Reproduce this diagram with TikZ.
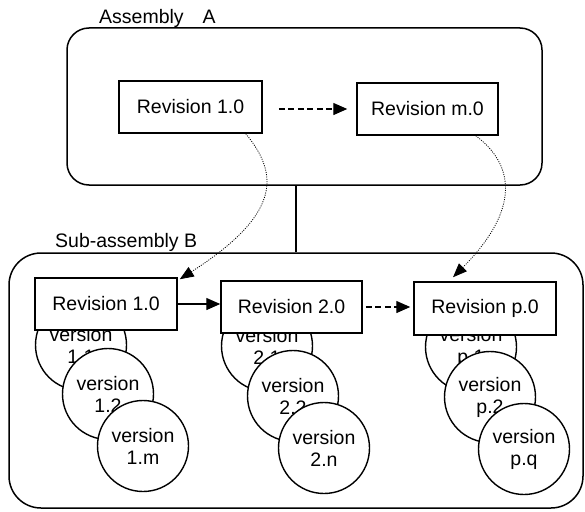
\documentclass[tikz,border=0pt]{standalone}
\usepackage{fontspec}
\setmainfont{Liberation Sans}
\usetikzlibrary{arrows.meta}
\begin{document}
\begin{tikzpicture}[x=1pt,y=-1pt,
  every node/.style={font=\fontsize{19.5}{22}\selectfont},
  revbox/.style={draw, line width=1.5pt, fill=white, minimum width=142pt, minimum height=52pt, inner sep=0pt},
  outerbox/.style={draw, line width=1.5pt, inner sep=0pt},
  ver/.style={circle, draw, line width=1.4pt, fill=white, minimum size=91pt, inner sep=0pt, align=center},
  headtip/.style={-{Triangle[length=14pt,width=12pt]}},
  dasharrow/.style={headtip, line width=1.4pt, dash pattern=on 6pt off 3.5pt},
  solidarrow/.style={headtip, line width=1.4pt},
  linkarrow/.style={-{Triangle[length=14pt,width=11pt]}, line width=0.8pt, dash pattern=on 1pt off 1.3pt},
  lbl/.style={inner sep=0pt, anchor=base west}
]
\useasboundingbox (0,0) rectangle (585,511);

% outer boxes
\node[outerbox, rounded corners=22pt, minimum width=475pt, minimum height=157pt] (asm) at (304.5,106.5) {};
\node[outerbox, rounded corners=32pt, minimum width=574pt, minimum height=255pt] (sub) at (296,380.5) {};
\node[lbl] (asmlbl) at (99,24) {Assembly\hspace{19pt}A};
\node[lbl] (sublbl) at (55,247) {Sub-assembly B};
\draw[line width=1.5pt] (sub.north) -- (sub.north |- asm.south);

% assembly A revisions
\node[revbox, minimum width=143pt] (A1) at (190.5,107) {Revision 1.0};
\node[revbox, minimum width=141pt] (Am) at (427.5,109) {Revision m.0};
\draw[dasharrow, shorten <=16pt, shorten >=9pt] (A1.east |- Am.west) -- (Am.west);

% version circles, group 1
\node[ver] (v11) at (81,345) {version\\1.1};
\node[ver] (v12) at (108,394) {version\\1.2};
\node[ver] (v1m) at (143,446) {version\\1.m};
% group 2
\node[ver] (v21) at (267,346) {version\\2.1};
\node[ver] (v22) at (293,396) {version\\2.2};
\node[ver] (v2n) at (324,448) {version\\2.n};
% group 3
\node[ver] (vp1) at (471,347) {version\\p.1};
\node[ver] (vp2) at (490,397) {version\\p.2};
\node[ver] (vpq) at (524,449) {version\\p.q};

% sub-assembly B revisions
\node[revbox] (B1) at (106,304) {Revision 1.0};
\node[revbox, minimum width=141pt] (B2) at (291.5,307) {Revision 2.0};
\node[revbox, minimum height=53pt] (Bp) at (485,308.5) {Revision p.0};
\draw[solidarrow] (B1.east) -- (B1.east -| B2.west);
\draw[dasharrow, shorten <=3pt, shorten >=3pt] (B2.east) -- (B2.east -| Bp.west);

% links between assembly revisions and sub-assembly revisions
\draw[linkarrow] ([xshift=-17pt]A1.south east) .. controls (280,175) and (280,215) .. ([xshift=2pt,yshift=-2pt]B1.north east);
\draw[linkarrow] ([xshift=-23pt]Am.south east) .. controls (515,165) and (520,210) .. ([xshift=-32pt,yshift=4pt]Bp.north);
\end{tikzpicture}
\end{document}
